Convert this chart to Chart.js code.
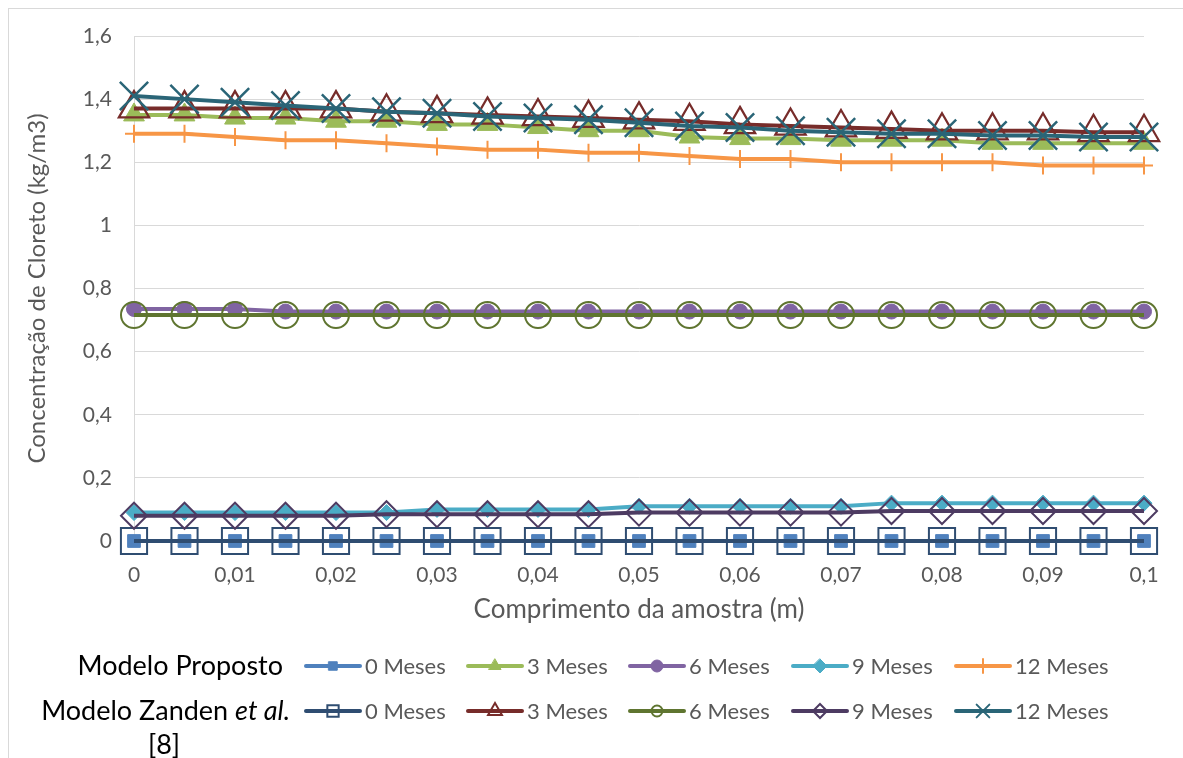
<!DOCTYPE html>
<html>
<head>
<meta charset="utf-8">
<script src="https://cdn.jsdelivr.net/npm/chart.js@4.4.1/dist/chart.umd.min.js"></script>
<style>
  html, body { margin: 0; padding: 0; background: #fff; overflow: hidden; }
  #wrap { position: relative; width: 1183px; height: 758px; }
  #frame { position: absolute; left: 8px; top: 8px; width: 1300px; height: 900px; border-left: 1px solid #d9d9d9; border-top: 1px solid #d9d9d9; box-sizing: border-box; }
  canvas { position: absolute; left: 0; top: 0; }
</style>
</head>
<body>
<div id="wrap">
  <div id="frame"></div>
  <canvas id="c" width="1183" height="758"></canvas>
</div>
<script>
// ---- Data ----
const comprimento = [0, 0.005, 0.01, 0.015, 0.02, 0.025, 0.03, 0.035, 0.04, 0.045, 0.05, 0.055, 0.06, 0.065, 0.07, 0.075, 0.08, 0.085, 0.09, 0.095, 0.1];

const propostoM0  = [0, 0, 0, 0, 0, 0, 0, 0, 0, 0, 0, 0, 0, 0, 0, 0, 0, 0, 0, 0, 0];
const propostoM3  = [1.35, 1.35, 1.34, 1.34, 1.33, 1.33, 1.32, 1.32, 1.31, 1.30, 1.30, 1.28, 1.275, 1.275, 1.27, 1.27, 1.27, 1.26, 1.26, 1.26, 1.26];
const propostoM6  = [0.735, 0.735, 0.735, 0.727, 0.727, 0.727, 0.727, 0.727, 0.727, 0.727, 0.727, 0.727, 0.727, 0.727, 0.727, 0.727, 0.727, 0.727, 0.727, 0.727, 0.727];
const propostoM9  = [0.09, 0.09, 0.09, 0.09, 0.09, 0.09, 0.10, 0.10, 0.10, 0.10, 0.11, 0.11, 0.11, 0.11, 0.11, 0.12, 0.12, 0.12, 0.12, 0.12, 0.12];
const propostoM12 = [1.29, 1.29, 1.28, 1.27, 1.27, 1.26, 1.25, 1.24, 1.24, 1.23, 1.23, 1.22, 1.21, 1.21, 1.20, 1.20, 1.20, 1.20, 1.19, 1.19, 1.19];

const zandenM0  = [0, 0, 0, 0, 0, 0, 0, 0, 0, 0, 0, 0, 0, 0, 0, 0, 0, 0, 0, 0, 0];
const zandenM3  = [1.37, 1.37, 1.37, 1.37, 1.37, 1.36, 1.355, 1.35, 1.345, 1.34, 1.335, 1.33, 1.32, 1.315, 1.31, 1.305, 1.30, 1.30, 1.30, 1.295, 1.295];
const zandenM6  = [0.716, 0.716, 0.716, 0.716, 0.716, 0.716, 0.716, 0.716, 0.716, 0.716, 0.716, 0.716, 0.716, 0.716, 0.716, 0.716, 0.716, 0.716, 0.716, 0.716, 0.716];
const zandenM9  = [0.08, 0.08, 0.08, 0.08, 0.08, 0.085, 0.085, 0.085, 0.085, 0.085, 0.09, 0.09, 0.09, 0.09, 0.09, 0.095, 0.095, 0.095, 0.095, 0.095, 0.095];
const zandenM12 = [1.41, 1.40, 1.39, 1.38, 1.37, 1.36, 1.355, 1.345, 1.34, 1.335, 1.325, 1.315, 1.31, 1.30, 1.295, 1.29, 1.29, 1.285, 1.285, 1.28, 1.28];

const seriesNames = ['0 Meses', '3 Meses', '6 Meses', '9 Meses', '12 Meses'];
const groupNames = ['Modelo Proposto', 'Modelo Zanden'];

const yTicks = [0, 0.2, 0.4, 0.6, 0.8, 1, 1.2, 1.4, 1.6];
const xTicks = [0, 0.01, 0.02, 0.03, 0.04, 0.05, 0.06, 0.07, 0.08, 0.09, 0.1];

// ---- Styles ----
const FONT = 'Lato, "Open Sans", sans-serif';
const TXT = '#595959';
const styles = [
  // Modelo Proposto
  { data: propostoM0,  color: '#4f81bd', fill: '#4f81bd', ps: 'rect',     r: 9,   lw: 1,    lr: 6 },
  { data: propostoM3,  color: '#9bbb59', fill: '#9bbb59', ps: 'triangle', r: 12,  lw: 1,    lr: 7 },
  { data: propostoM6,  color: '#8064a2', fill: '#8064a2', ps: 'circle',   r: 7.5, lw: 1,    lr: 6 },
  { data: propostoM9,  color: '#4bacc6', fill: '#4bacc6', ps: 'rectRot',  r: 8,   lw: 1,    lr: 7 },
  { data: propostoM12, color: '#f79646', fill: '#f79646', ps: 'cross',    r: 9,   lw: 2,    lr: 7 },
  // Modelo Zanden
  { data: zandenM0,  color: '#2f4d71', fill: 'rgba(0,0,0,0)', ps: 'rect',     r: 18.5, lw: 2,    lr: 8 },
  { data: zandenM3,  color: '#772c2a', fill: 'rgba(0,0,0,0)', ps: 'triangle', r: 17.5, lw: 2.25, lr: 8 },
  { data: zandenM6,  color: '#5f7530', fill: 'rgba(0,0,0,0)', ps: 'circle',   r: 13,   lw: 2,    lr: 5.5 },
  { data: zandenM9,  color: '#4d3b62', fill: 'rgba(0,0,0,0)', ps: 'rectRot',  r: 13,   lw: 2,    lr: 7 },
  { data: zandenM12, color: '#2a6577', fill: 'rgba(0,0,0,0)', ps: 'crossRot', r: 20,   lw: 2.5,  lr: 9 }
];

const datasets = styles.map((s, i) => ({
  label: (i < 5 ? groupNames[0] : groupNames[1]) + ' ' + seriesNames[i % 5],
  data: comprimento.map((x, k) => ({ x: x, y: s.data[k] })),
  borderColor: s.color,
  backgroundColor: s.color,
  borderWidth: 4,
  pointStyle: s.ps,
  pointRadius: s.r,
  pointHoverRadius: s.r,
  pointBackgroundColor: s.fill,
  pointBorderColor: s.color,
  pointBorderWidth: s.lw,
  tension: 0,
  clip: false,
  order: 20 - i
}));

function fmt(v) {
  const n = Number(Number(v).toFixed(3));
  return String(n).replace('.', ',');
}

function drawMarker(ctx, s, x, y, r) {
  ctx.save();
  ctx.lineWidth = Math.min(s.lw, 2);
  ctx.strokeStyle = s.color;
  ctx.fillStyle = s.fill;
  ctx.beginPath();
  const SQ = Math.SQRT1_2;
  if (s.ps === 'rect') {
    const h = r * SQ * 1.0;
    ctx.rect(x - h, y - h, 2 * h, 2 * h);
    ctx.fill(); ctx.stroke();
  } else if (s.ps === 'triangle') {
    for (let k = 0; k < 3; k++) {
      const a = k * 2 * Math.PI / 3;
      const px = x + Math.sin(a) * r, py = y - Math.cos(a) * r;
      if (k === 0) ctx.moveTo(px, py); else ctx.lineTo(px, py);
    }
    ctx.closePath(); ctx.fill(); ctx.stroke();
  } else if (s.ps === 'circle') {
    ctx.arc(x, y, r, 0, Math.PI * 2);
    ctx.fill(); ctx.stroke();
  } else if (s.ps === 'rectRot') {
    ctx.moveTo(x, y - r); ctx.lineTo(x + r, y); ctx.lineTo(x, y + r); ctx.lineTo(x - r, y); ctx.closePath();
    ctx.fill(); ctx.stroke();
  } else if (s.ps === 'cross') {
    ctx.moveTo(x, y - r); ctx.lineTo(x, y + r);
    ctx.moveTo(x - r, y); ctx.lineTo(x + r, y);
    ctx.stroke();
  } else if (s.ps === 'crossRot') {
    const d = r * SQ;
    ctx.moveTo(x - d, y - d); ctx.lineTo(x + d, y + d);
    ctx.moveTo(x + d, y - d); ctx.lineTo(x - d, y + d);
    ctx.stroke();
  }
  ctx.restore();
}

const legendPlugin = {
  id: 'customLegend',
  afterDraw(chart) {
    const ctx = chart.ctx;
    ctx.save();
    const rowsY = [666, 711];
    const colX = [306, 468, 630, 793, 956];
    for (let row = 0; row < 2; row++) {
      for (let col = 0; col < 5; col++) {
        const s = styles[row * 5 + col];
        const y = rowsY[row];
        const x0 = colX[col];
        ctx.strokeStyle = s.color;
        ctx.lineWidth = 4;
        ctx.lineCap = 'round';
        ctx.beginPath();
        ctx.moveTo(x0, y); ctx.lineTo(x0 + 54, y);
        ctx.stroke();
        drawMarker(ctx, s, x0 + 27, y, s.lr);
        ctx.fillStyle = TXT;
        ctx.font = '22px ' + FONT;
        ctx.textAlign = 'left';
        ctx.textBaseline = 'middle';
        ctx.fillText(seriesNames[col], x0 + 59, y + 1);
      }
    }
    // group labels
    ctx.fillStyle = '#000';
    ctx.font = '27px ' + FONT;
    ctx.textBaseline = 'middle';
    ctx.textAlign = 'right';
    ctx.fillText(groupNames[0], 283, 666);
    // "Modelo Zanden et al." with italic part
    const part1 = groupNames[1] + ' ';
    const part2 = 'et al.';
    ctx.font = 'italic 27px ' + FONT;
    const w2 = ctx.measureText(part2).width;
    ctx.font = '27px ' + FONT;
    const w1 = ctx.measureText(part1).width;
    const right = 290;
    ctx.textAlign = 'left';
    ctx.fillText(part1, right - w2 - w1, 711);
    ctx.font = 'italic 27px ' + FONT;
    ctx.fillText(part2, right - w2, 711);
    ctx.font = '27px ' + FONT;
    ctx.textAlign = 'center';
    ctx.fillText('[8]', 164, 745);
    ctx.restore();
  }
};

new Chart(document.getElementById('c'), {
  type: 'line',
  data: { datasets: datasets },
  options: {
    responsive: false,
    animation: false,
    events: [],
    layout: { padding: { left: 8, top: 36, right: 39, bottom: 133 } },
    plugins: { legend: { display: false }, tooltip: { enabled: false } },
    scales: {
      x: {
        type: 'linear',
        min: 0, max: 0.1,
        afterFit(scale) { scale.height = 84; },
        afterBuildTicks(scale) { scale.ticks = xTicks.map(v => ({ value: v })); },
        grid: { display: false, drawTicks: false },
        border: { display: true, color: '#d9d9d9', width: 1 },
        ticks: { color: TXT, font: { family: FONT, size: 21 }, padding: 22, maxRotation: 0, autoSkip: false, callback: v => fmt(v) },
        title: { display: true, text: 'Comprimento da amostra (m)', color: TXT, font: { family: FONT, size: 26 }, padding: { top: 0, bottom: 0 } }
      },
      y: {
        type: 'linear',
        min: 0, max: 1.6,
        afterFit(scale) { scale.width = 126; },
        afterBuildTicks(scale) { scale.ticks = yTicks.map(v => ({ value: v })); },
        grid: { color: '#d9d9d9', lineWidth: 1, drawTicks: false },
        border: { display: true, color: '#d9d9d9', width: 1 },
        ticks: { color: TXT, font: { family: FONT, size: 21 }, padding: 22, callback: v => fmt(v) },
        title: { display: true, text: 'Concentração de Cloreto (kg/m3)', color: TXT, font: { family: FONT, size: 24 }, padding: { top: 15, bottom: 2 } }
      }
    }
  },
  plugins: [legendPlugin]
});
</script>
</body>
</html>
